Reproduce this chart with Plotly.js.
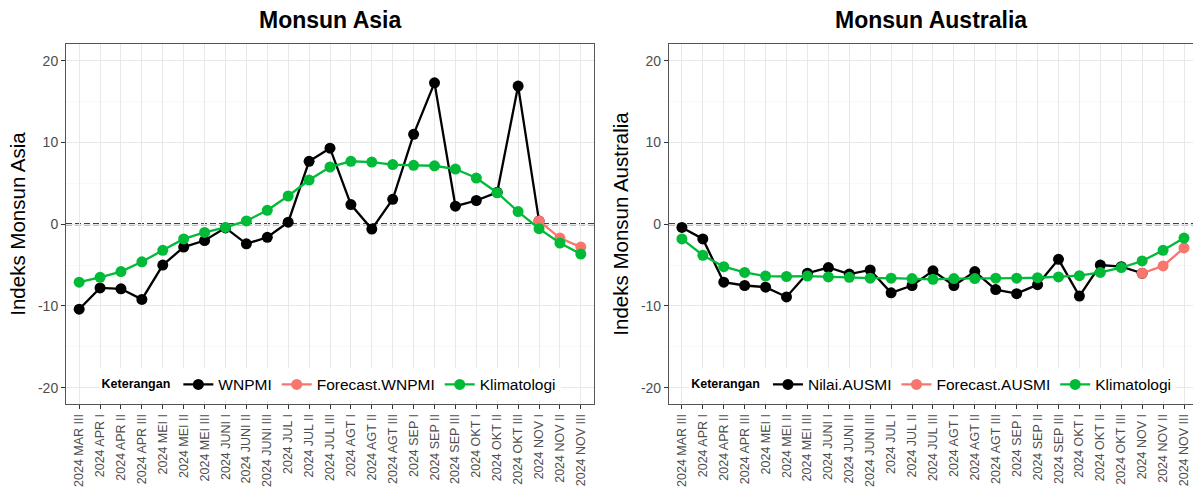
<!DOCTYPE html>
<html><head><meta charset="utf-8">
<script src="https://cdn.plot.ly/plotly-3.0.1.min.js"></script>
<style>html,body{margin:0;padding:0;background:#fff;} #chart{width:1193px;height:493px;}</style>
</head><body><div id="chart"></div>
<script>
const categories = ["2024 MAR III","2024 APR I","2024 APR II","2024 APR III","2024 MEI I","2024 MEI II","2024 MEI III","2024 JUNI I","2024 JUNI II","2024 JUNI III","2024 JUL I","2024 JUL II","2024 JUL III","2024 AGT I","2024 AGT II","2024 AGT III","2024 SEP I","2024 SEP II","2024 SEP III","2024 OKT I","2024 OKT II","2024 OKT III","2024 NOV I","2024 NOV II","2024 NOV III"];
const wnpmi = [-10.4,-7.8,-7.9,-9.2,-5.0,-2.8,-2.0,-0.45,-2.4,-1.6,0.25,7.7,9.3,2.4,-0.6,3.05,11.0,17.3,2.2,2.9,3.9,16.9,0.4];
const forecastWnpmi = [0.4,-1.7,-2.8];
const klimAsia = [-7.1,-6.5,-5.8,-4.6,-3.2,-1.8,-1.0,-0.4,0.4,1.7,3.45,5.4,7.0,7.7,7.6,7.3,7.2,7.15,6.75,5.65,3.85,1.55,-0.55,-2.3,-3.65];
const ausmi = [-0.4,-1.8,-7.1,-7.5,-7.7,-8.9,-6.0,-5.3,-6.1,-5.6,-8.4,-7.5,-5.7,-7.5,-5.8,-8.0,-8.5,-7.4,-4.3,-8.8,-5.0,-5.2,-6.0];
const forecastAusmi = [-6.0,-5.1,-2.9];
const klimAus = [-1.8,-3.8,-5.2,-5.9,-6.35,-6.4,-6.35,-6.45,-6.5,-6.6,-6.6,-6.65,-6.75,-6.65,-6.65,-6.6,-6.6,-6.55,-6.45,-6.3,-5.9,-5.3,-4.5,-3.2,-1.7];
const seriesNamesAsia = ["WNPMI","Forecast.WNPMI","Klimatologi"];
const seriesNamesAus = ["Nilai.AUSMI","Forecast.AUSMI","Klimatologi"];
const colors = ["#000000","#F8766D","#00BA38"];
const yTickVals = [-20,-10,0,10,20];
const yTickText = ["-20","-10","0","10","20"];
const yMinorVals = [-15,-5,5,15];

const FONT = "Liberation Sans, Arial, sans-serif";
const obsX = categories.slice(0, wnpmi.length);
const fcX = categories.slice(categories.length - 3);

function tr(x, y, name, color, xa, ya, leg) {
  return {x: x, y: y, name: name, type: 'scatter', mode: 'lines+markers',
    line: {color: color, width: 2.3}, marker: {color: color, size: 11},
    xaxis: xa, yaxis: ya, legend: leg};
}
const data = [
  tr(obsX, wnpmi, seriesNamesAsia[0], colors[0], 'x', 'y', 'legend'),
  tr(fcX, forecastWnpmi, seriesNamesAsia[1], colors[1], 'x', 'y', 'legend'),
  tr(categories, klimAsia, seriesNamesAsia[2], colors[2], 'x', 'y', 'legend'),
  tr(obsX, ausmi, seriesNamesAus[0], colors[0], 'x2', 'y2', 'legend2'),
  tr(fcX, forecastAusmi, seriesNamesAus[1], colors[1], 'x2', 'y2', 'legend2'),
  tr(categories, klimAus, seriesNamesAus[2], colors[2], 'x2', 'y2', 'legend2')
];

function xax(domain, anchor, range) {
  return {domain: domain, anchor: anchor, type: 'category', categoryorder: 'array', categoryarray: categories,
    range: range, tickmode: 'array', tickvals: categories, ticktext: categories,
    showgrid: true, gridcolor: '#E8E8E8', gridwidth: 1,
    ticks: 'outside', ticklen: 4, tickcolor: '#333', tickwidth: 1,
    tickangle: -90, tickfont: {family: FONT, size: 12.5, color: '#4D4D4D'},
    showline: true, mirror: true, linecolor: '#555', linewidth: 1, zeroline: false};
}
function yax(anchor, title, mirror) {
  return {anchor: anchor, domain: [0, 1], range: [-22, 22.05], tickmode: 'array', tickvals: yTickVals, ticktext: yTickText,
    showgrid: true, gridcolor: '#E8E8E8', gridwidth: 1,
    minor: {tickvals: yMinorVals, showgrid: true, gridcolor: '#F3F3F3', gridwidth: 0.6, ticks: ''},
    ticks: 'outside', ticklen: 4, tickcolor: '#333', tickwidth: 1,
    tickfont: {family: FONT, size: 14, color: '#4D4D4D'},
    showline: true, mirror: mirror, linecolor: '#555', linewidth: 1, zeroline: false,
    title: {text: title, font: {family: FONT, size: 20.5, color: '#000'}, standoff: 6}};
}
function leg(x) {
  return {orientation: 'h', x: x, xanchor: 'center', xref: 'paper', y: 0.006, yanchor: 'bottom', yref: 'paper',
    bgcolor: '#FFFFFF', borderwidth: 0, font: {family: FONT, size: 15.5, color: '#000'},
    title: {text: '<span style="font-size:12.5px"><b>Keterangan</b></span>', side: 'left', font: {family: FONT, size: 15.5, color: '#000'}},
    itemwidth: 30, tracegroupgap: 0};
}

const layout = {
  width: 1193, height: 493,
  margin: {l: 66, r: 0, t: 44, b: 89},
  paper_bgcolor: '#FFFFFF', plot_bgcolor: '#FFFFFF',
  font: {family: FONT},
  xaxis: xax([0, 0.4685], 'y', [-0.63, 24.63]),
  yaxis: yax('x', 'Indeks Monsun Asia', true),
  xaxis2: xax([0.535, 1], 'y2', [-0.62, 24.43]),
  yaxis2: yax('x2', 'Indeks Monsun Australia', false),
  legend: leg(0.2343),
  legend2: leg(0.769),
  showlegend: true,
  shapes: [
    {type: 'line', xref: 'x domain', yref: 'y', x0: 0, x1: 1, y0: 0, y1: 0, line: {color: '#000', width: 1.9, dash: '6px,3px'}, layer: 'below'},
    {type: 'line', xref: 'x2 domain', yref: 'y2', x0: 0, x1: 1, y0: 0, y1: 0, line: {color: '#000', width: 1.9, dash: '6px,3px'}, layer: 'below'}
  ],
  annotations: [
    {text: '<b>Monsun Asia</b>', xref: 'x domain', yref: 'paper', x: 0.5, y: 1, xanchor: 'center', yanchor: 'middle', yshift: 24, showarrow: false, font: {family: FONT, size: 23, color: '#000'}},
    {text: '<b>Monsun Australia</b>', xref: 'x2 domain', yref: 'paper', x: 0.5, y: 1, xanchor: 'center', yanchor: 'middle', yshift: 24, showarrow: false, font: {family: FONT, size: 23, color: '#000'}}
  ]
};
Plotly.newPlot('chart', data, layout, {staticPlot: true, displayModeBar: false});
</script></body></html>
